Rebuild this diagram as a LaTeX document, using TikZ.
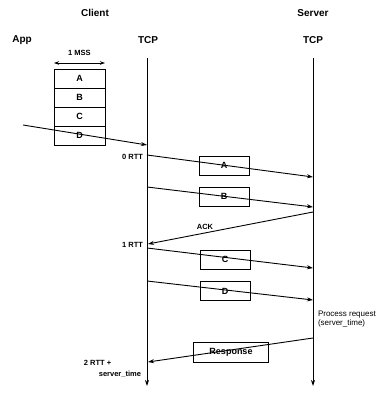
\documentclass[tikz,border=0pt]{standalone}
\usepackage{fontspec}
\setmainfont{Liberation Sans}
\usetikzlibrary{arrows.meta}
\begin{document}
\begin{tikzpicture}[x=1pt,y=-1pt,
  every node/.style={inner sep=0pt,outer sep=0pt},
  head/.style={font=\fontsize{10}{12}\selectfont\bfseries},
  lbl/.style={font=\fontsize{7.5}{9}\selectfont\bfseries},
  note/.style={font=\fontsize{8}{9.5}\selectfont, align=left},
  seg/.style={draw, line width=0.9pt, minimum width=51pt, minimum height=19pt, font=\fontsize{9}{10}\selectfont\bfseries},
  msgbox/.style={draw, line width=0.9pt, minimum width=50pt, minimum height=19pt, font=\fontsize{9}{10}\selectfont\bfseries},
  lane/.style={line width=0.9pt, -{Stealth[length=6pt,width=4pt]}},
  msg/.style={line width=0.9pt, -{Stealth[length=6pt,width=4pt]}}]
\useasboundingbox (0,0) rectangle (388,393);
% headings
\node[head] (client) at (95,13) {Client};
\node[head] (server) at (313,13) {Server};
\node[head] (app) at (22,40) {App};
\node[head] (ctcp) at (148,40) {TCP};
\node[head] (stcp) at (313,40) {TCP};
% lifelines
\coordinate (ctop) at (147,58);
\coordinate (cbot) at (147,386);
\coordinate (stop) at (313,58);
\coordinate (sbot) at (313,386);
\draw[lane] (ctop) -- (cbot);
\draw[lane] (stop) -- (sbot);
% MSS stack
\node[seg] (sa) at (79.5,78.5) {A};
\node[seg] (sb) at (79.5,97.5) {B};
\node[seg] (sc) at (79.5,116.5) {C};
\node[seg] (sd) at (79.5,135.5) {D};
\coordinate (mssl) at (54,63);
\coordinate (mssr) at (105,63);
\draw[line width=0.8pt, {Stealth[length=5pt,width=3.5pt]}-{Stealth[length=5pt,width=3.5pt]}] (mssl) -- (mssr);
\node[lbl] (mss) at (79.5,53) {1 MSS};
% app to tcp
\coordinate (appw) at (23,125);
\coordinate (c0) at (147,145);
\draw[msg] (appw) -- (c0);
% messages
\coordinate (c1) at (147,155);
\coordinate (s1) at (313,177);
\coordinate (c2) at (147,187);
\coordinate (s2) at (313,207);
\coordinate (s3) at (313,212);
\coordinate (c3) at (148,244);
\coordinate (c4) at (147,248);
\coordinate (s4) at (313,268);
\coordinate (c5) at (147,281);
\coordinate (s5) at (313,300);
\coordinate (s6) at (313,338);
\coordinate (c6) at (148,362);
\draw[msg] (c1) -- (s1);
\draw[msg] (c2) -- (s2);
\draw[msg] (s3) -- (c3);
\draw[msg] (c4) -- (s4);
\draw[msg] (c5) -- (s5);
\draw[msg] (s6) -- (c6);
\node[msgbox] (ma) at (224,165.5) {A};
\node[msgbox] (mb) at (224,196.5) {B};
\node[msgbox] (mc) at (225,259.5) {C};
\node[msgbox] (md) at (225,291) {D};
\node[msgbox, minimum width=75pt, minimum height=20pt] (resp) at (231,352.5) {Response};
% labels
\node[lbl, anchor=east] (rtt0) at (143,157) {0 RTT};
\node[lbl, anchor=east] (rtt1) at (143,245) {1 RTT};
\node[lbl] (ack) at (205,227) {ACK};
\node[note, anchor=west] (proc) at (318,319) {Process request\\(server\_time)};
\node[lbl] (rtt2a) at (97.5,363) {2 RTT +};
\node[lbl, anchor=east] (rtt2b) at (141,374) {server\_time};
\end{tikzpicture}
\end{document}
